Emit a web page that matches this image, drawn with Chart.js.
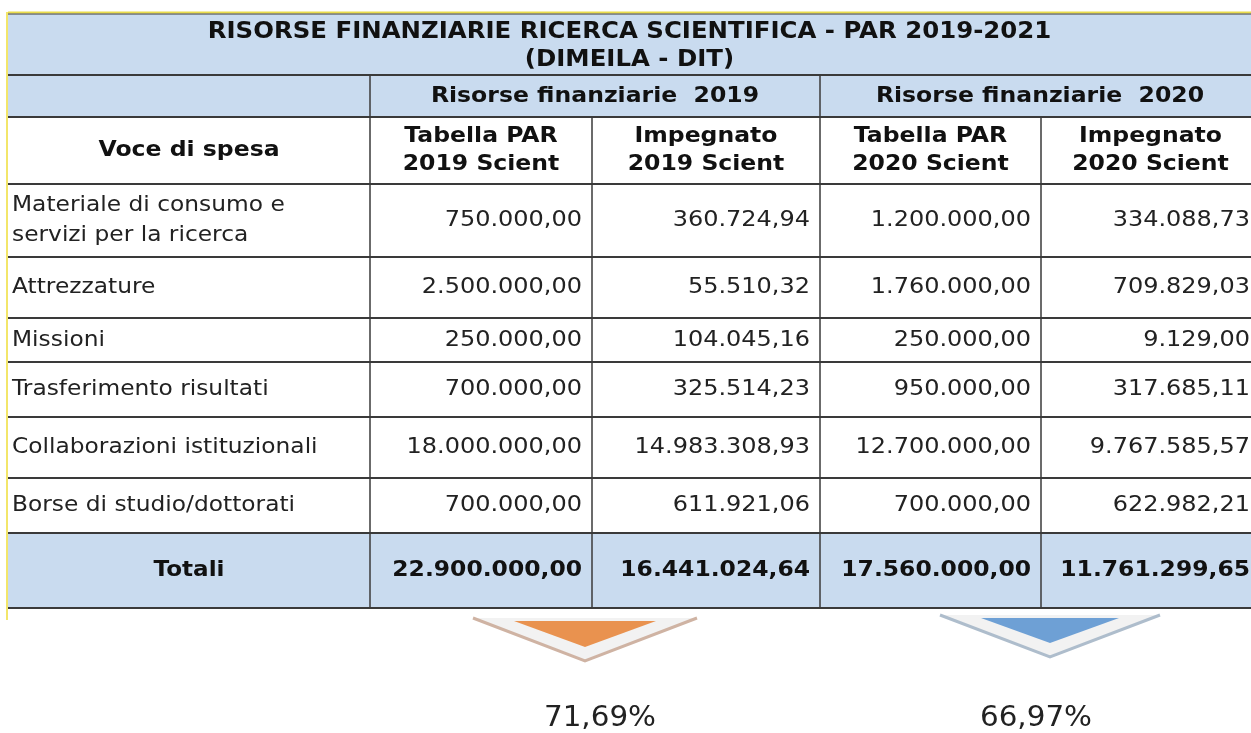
<!DOCTYPE html>
<html>
<head>
<meta charset="utf-8">
<script src="https://cdn.jsdelivr.net/npm/chart.js@4/dist/chart.umd.min.js"></script>
<style>
  html, body { margin: 0; padding: 0; background: #fff; }
  #wrap { width: 1251px; height: 733px; position: relative; }
</style>
</head>
<body>
<div id="wrap"><canvas id="tableChart"></canvas></div>
<script>
const titolo = ['RISORSE FINANZIARIE RICERCA SCIENTIFICA - PAR 2019-2021', '(DIMEILA - DIT)'];
const gruppi = ['Risorse finanziarie  2019', 'Risorse finanziarie  2020'];
const intestazioni = ['Voce di spesa', 'Tabella PAR\n2019 Scient', 'Impegnato\n2019 Scient', 'Tabella PAR\n2020 Scient', 'Impegnato\n2020 Scient'];
const vociSpesa = ['Materiale di consumo e\nservizi per la ricerca', 'Attrezzature', 'Missioni', 'Trasferimento risultati', 'Collaborazioni istituzionali', 'Borse di studio/dottorati'];
const tabella2019 = [750000.00, 2500000.00, 250000.00, 700000.00, 18000000.00, 700000.00];
const impegnato2019 = [360724.94, 55510.32, 104045.16, 325514.23, 14983308.93, 611921.06];
const tabella2020 = [1200000.00, 1760000.00, 250000.00, 950000.00, 12700000.00, 700000.00];
const impegnato2020 = [334088.73, 709829.03, 9129.00, 317685.11, 9767585.57, 622982.21];
const totali = [22900000.00, 16441024.64, 17560000.00, 11761299.65];
const percentuali = ['71,69%', '66,97%'];

// layout (unita' della scala, non dati)
const colEdges = [8, 370, 592, 820, 1041, 1260];
const rowEdges = [14, 75, 117, 184, 257, 318, 362, 417, 478, 533, 608];
const FONT = '"DejaVu Sans", Verdana, sans-serif';
const BLUE = '#c9dbef';
const LINE = '#3a3a3a';
const STRETCH = 1.07;

const fmt = v => {
  const [i, d] = v.toFixed(2).split('.');
  return i.replace(/\B(?=(\d{3})+(?!\d))/g, '.') + ',' + d;
};

const tablePlugin = {
  id: 'tablePlugin',
  afterDraw(chart) {
    const ctx = chart.ctx;
    const X = v => chart.scales.x.getPixelForValue(v);
    const Y = v => chart.scales.y.getPixelForValue(v);
    const L = colEdges[0], R = colEdges[colEdges.length - 1];

    const rect = (x0, y0, x1, y1, color) => {
      ctx.fillStyle = color;
      ctx.fillRect(X(x0), Y(y0), X(x1) - X(x0), Y(y1) - Y(y0));
    };
    const text = (s, x, y, align, font, color, sx) => {
      ctx.save();
      ctx.font = font;
      ctx.fillStyle = color || '#111';
      ctx.textAlign = align;
      ctx.textBaseline = 'middle';
      ctx.translate(x, y);
      ctx.scale(sx || STRETCH, 1);
      ctx.fillText(s, 0, 0);
      ctx.restore();
    };
    const multi = (s, x, yc, align, font, lh, color, sx) => {
      const parts = s.split('\n');
      parts.forEach((p, i) => text(p, x, yc + (i - (parts.length - 1) / 2) * lh, align, font, color, sx));
    };
    const hline = (y, x0, x1, w, c) => {
      ctx.strokeStyle = c || LINE; ctx.lineWidth = w;
      ctx.beginPath(); ctx.moveTo(X(x0), Y(y)); ctx.lineTo(X(x1), Y(y)); ctx.stroke();
    };
    const vline = (x, y0, y1, w, c) => {
      ctx.strokeStyle = c || LINE; ctx.lineWidth = w;
      ctx.beginPath(); ctx.moveTo(X(x), Y(y0)); ctx.lineTo(X(x), Y(y1)); ctx.stroke();
    };

    ctx.save();
    // sfondi
    rect(L, rowEdges[0], R, rowEdges[2], BLUE);
    rect(L, rowEdges[2], R, rowEdges[9], '#ffffff');
    rect(L, rowEdges[9], R, rowEdges[10], BLUE);

    // bordi
    hline(rowEdges[0] - 1.5, L, R, 2, '#e9dc4a');
    vline(L - 1, rowEdges[0] - 2, rowEdges[10] + 12, 2, '#f3e66a');
    rowEdges.forEach((y, i) => hline(y, L, R, i === 0 ? 1 : 2));
    vline(colEdges[1], rowEdges[1], rowEdges[10], 1.5);
    vline(colEdges[3], rowEdges[1], rowEdges[10], 1.5);
    vline(colEdges[2], rowEdges[2], rowEdges[10], 1.5);
    vline(colEdges[4], rowEdges[2], rowEdges[10], 1.5);

    const mid = (a, b) => (Y(a) + Y(b)) / 2;
    const cx = (a, b) => (X(a) + X(b)) / 2;
    const bold = 'bold 22px ' + FONT;
    const reg = '22px ' + FONT;

    // titolo
    multi(titolo.join('\n'), (X(L) + X(1251)) / 2, mid(rowEdges[0], rowEdges[1]) + 2, 'center', 'bold 22.5px ' + FONT, 28, '#111', 1.085);
    text(gruppi[0], cx(colEdges[1], colEdges[3]), mid(rowEdges[1], rowEdges[2]), 'center', bold);
    text(gruppi[1], cx(colEdges[3], colEdges[5]), mid(rowEdges[1], rowEdges[2]), 'center', bold);
    intestazioni.forEach((h, c) => multi(h, cx(colEdges[c], colEdges[c + 1]), mid(rowEdges[2], rowEdges[3]), 'center', bold, 28));

    // righe
    const serie = [tabella2019, impegnato2019, tabella2020, impegnato2020];
    vociSpesa.forEach((v, r) => {
      const yc = mid(rowEdges[3 + r], rowEdges[4 + r]);
      multi(v, X(colEdges[0]) + 4, yc, 'left', reg, 30, '#222', 1.06);
      serie.forEach((s, c) => text(fmt(s[r]), X(colEdges[c + 2]) - 10, yc, 'right', reg, '#222', 1.09));
    });
    const yt = mid(rowEdges[9], rowEdges[10]);
    text('Totali', cx(colEdges[0], colEdges[1]), yt, 'center', bold, '#111', 1.05);
    totali.forEach((t, c) => text(fmt(t), X(colEdges[c + 2]) - 10, yt, 'right', bold, '#111', 1.065));

    // frecce
    const chevron = (xc, top, halfW, depth, inner, fill, edge) => {
      ctx.fillStyle = '#f2f2f2';
      ctx.beginPath();
      ctx.moveTo(X(xc - halfW), Y(top));
      ctx.lineTo(X(xc + halfW), Y(top));
      ctx.lineTo(X(xc), Y(top + depth));
      ctx.closePath(); ctx.fill();
      ctx.strokeStyle = edge; ctx.lineWidth = 3;
      ctx.beginPath();
      ctx.moveTo(X(xc - halfW), Y(top));
      ctx.lineTo(X(xc), Y(top + depth));
      ctx.lineTo(X(xc + halfW), Y(top));
      ctx.stroke();
      ctx.fillStyle = fill;
      ctx.beginPath();
      ctx.moveTo(X(xc - inner[0]), Y(top + inner[1]));
      ctx.lineTo(X(xc + inner[0]), Y(top + inner[1]));
      ctx.lineTo(X(xc), Y(top + inner[2]));
      ctx.closePath(); ctx.fill();
    };
    chevron(585, 618, 112, 43, [71, 3, 29], '#e9924f', '#cfb3a3');
    chevron(1050, 615, 110, 42, [69, 3, 28], '#6ea0d5', '#aebdcc');

    text(percentuali[0], 600, 719, 'center', '28px ' + FONT, '#222', 1.05);
    text(percentuali[1], 1036, 719, 'center', '28px ' + FONT, '#222', 1.05);
    ctx.restore();
  }
};

new Chart(document.getElementById('tableChart'), {
  type: 'scatter',
  data: { datasets: [{ data: [], pointRadius: 0 }] },
  options: {
    responsive: true,
    maintainAspectRatio: false,
    animation: false,
    layout: { padding: 0 },
    plugins: { legend: { display: false }, tooltip: { enabled: false } },
    scales: {
      x: { type: 'linear', min: 0, max: 1251, display: false },
      y: { type: 'linear', min: 0, max: 733, reverse: true, display: false }
    }
  },
  plugins: [tablePlugin]
});
</script>
</body>
</html>
